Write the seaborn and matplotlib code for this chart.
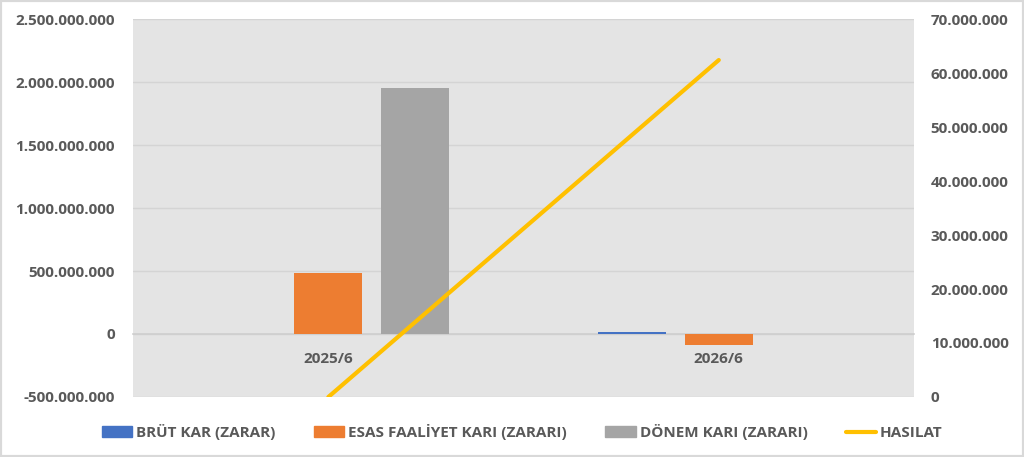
import numpy as np
import pandas as pd
import matplotlib
matplotlib.use("Agg")
import matplotlib.pyplot as plt
import seaborn as sns
from matplotlib.patches import Patch, Rectangle
from matplotlib.lines import Line2D
from matplotlib.ticker import FuncFormatter, FixedLocator

periods = ["2025/6", "2026/6"]
bar_series = ["BRÜT KAR (ZARAR)", "ESAS FAALİYET KARI (ZARARI)", "DÖNEM KARI (ZARARI)"]
brut_kar = [0, 16_000_000]
esas_faaliyet = [488_000_000, -85_000_000]
donem_kari = [1_955_000_000, 0]
hasilat = [0, 62_400_000]

bar_colors = ["#4472C4", "#ED7D31", "#A5A5A5"]
line_color = "#FFC000"
text_color = "#595959"

df = pd.DataFrame({
    "Dönem": periods * 3,
    "Seri": [s for s in bar_series for _ in periods],
    "Değer": brut_kar + esas_faaliyet + donem_kari,
})

sns.set_style("white")
plt.rcParams["font.family"] = ["Open Sans", "DejaVu Sans"]
plt.rcParams["font.weight"] = "bold"

fig = plt.figure(figsize=(10.24, 4.57), dpi=100)
ax = fig.add_axes([0.130, 0.1313, 0.7626, 0.8271])
ax.set_facecolor("#E4E4E4")

sns.barplot(data=df, x="Dönem", y="Değer", hue="Seri", hue_order=bar_series,
            palette=bar_colors, width=0.668, gap=0.22, ax=ax, legend=False,
            saturation=1, linewidth=0, edgecolor="none", zorder=3)

ax.set_xlim(-0.5, 1.5)
ax.set_ylim(-500_000_000, 2_500_000_000)
ax.set_yticks(np.arange(-500_000_000, 2_500_000_001, 500_000_000))

fmt = FuncFormatter(lambda v, p: f"{v:,.0f}".replace(",", "."))
ax.yaxis.set_major_formatter(fmt)
ax.grid(axis="y", color="#D4D4D4", lw=1, zorder=0)
ax.set_axisbelow(True)
for s in ["top", "left", "right"]:
    ax.spines[s].set_visible(False)
ax.spines["bottom"].set_position(("data", 0))
ax.spines["bottom"].set_color("#CFCFCF")
ax.spines["bottom"].set_linewidth(1.2)
ax.set_xlabel("")
ax.set_ylabel("")
ax.tick_params(axis="x", which="major", length=0, pad=13,
               labelsize=11, labelcolor=text_color)
ax.xaxis.set_minor_locator(FixedLocator([-0.5, 0.5, 1.5]))
ax.tick_params(axis="x", which="minor", length=5, color="#CFCFCF", width=1.2)
ax.tick_params(axis="y", length=0, pad=13, labelsize=11, labelcolor=text_color)

ax2 = ax.twinx()
sns.lineplot(x=np.arange(len(periods)), y=hasilat, color=line_color, lw=3,
             ax=ax2, legend=False)
ax2.set_ylim(0, 70_000_000)
ax2.set_yticks(np.arange(0, 70_000_001, 10_000_000))
ax2.yaxis.set_major_formatter(fmt)
ax2.tick_params(axis="y", length=0, pad=12, labelsize=11, labelcolor=text_color)
for s in ax2.spines.values():
    s.set_visible(False)
ax2.set_ylabel("")

handles = [Patch(color=c) for c in bar_colors] + [Line2D([], [], color=line_color, lw=3)]
labels = bar_series + ["HASILAT"]
fig.legend(handles, labels, loc="center", bbox_to_anchor=(0.51, 0.055), ncol=4,
           frameon=False, handlelength=2.0, handleheight=0.7, handletextpad=0.25,
           columnspacing=2.5, prop={"size": 11, "weight": "bold"},
           labelcolor=text_color)

fig.patches.append(Rectangle((0, 0), 1, 1, transform=fig.transFigure, fill=False,
                             ec="#D9D9D9", lw=3))

fig.savefig("out.png", dpi=100, facecolor="white")
